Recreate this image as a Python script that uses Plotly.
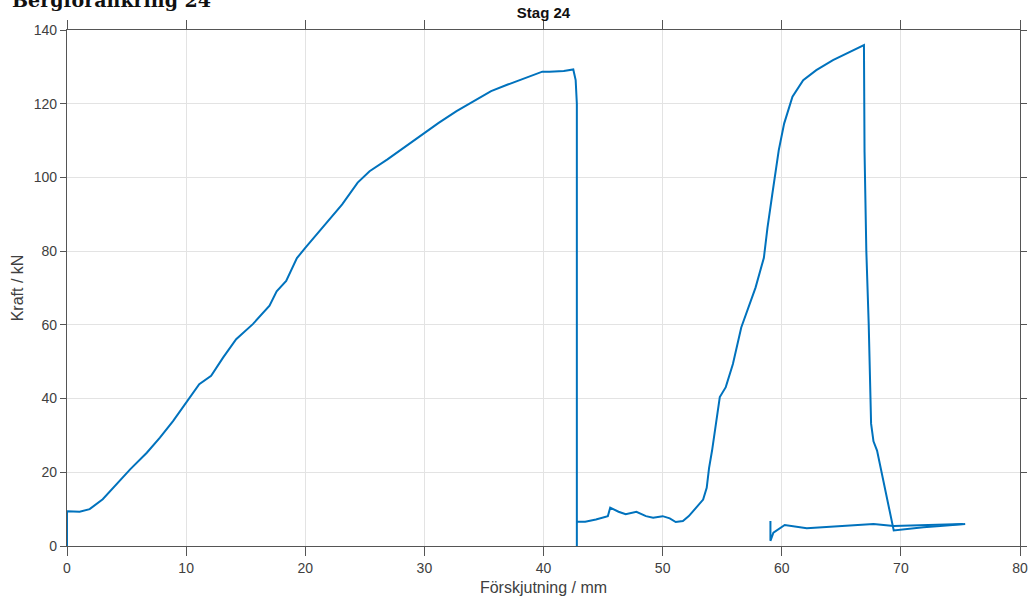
import plotly.graph_objects as go

# Segment 1: initial loading up to first failure (x in mm, y in kN)
seg1_x = [0.0, 0.0, 1.06, 1.9, 3.0, 4.1, 5.3, 6.7, 7.8, 8.9, 10.0, 11.1, 12.1, 13.1, 14.2,
          15.6, 17.0, 17.6, 18.4, 19.3, 20.0, 21.4, 23.1, 24.4, 25.4, 26.9, 28.3, 30.0,
          31.2, 32.7, 34.1, 35.6, 37.0, 38.5, 39.9, 40.5, 41.7, 42.5, 42.7, 42.8, 42.8]
seg1_y = [0.0, 9.4, 9.3, 10.0, 12.7, 16.7, 20.8, 25.3, 29.4, 33.9, 38.9, 43.9, 46.2, 51.1, 56.1,
          60.2, 65.2, 69.1, 71.9, 78.1, 80.9, 86.3, 92.7, 98.6, 101.7, 104.9, 108.1, 112.1,
          114.8, 118.0, 120.7, 123.4, 125.2, 127.1, 128.7, 128.7, 128.9, 129.3, 126.4, 120.0, 0.0]

# Segment 2: residual friction, reloading, second failure and unloading
seg2_x = [42.8, 43.5, 44.4, 45.4, 45.6, 46.3, 46.9, 47.8, 48.6, 49.2, 50.0, 50.6, 51.1, 51.7,
          52.2, 52.8, 53.4, 53.7, 53.9, 54.15, 54.8, 55.3, 55.9, 56.6, 57.3, 57.8, 58.5, 58.8,
          59.2, 59.75, 60.2, 60.9, 61.8, 62.9, 64.3, 65.7, 66.9, 66.95, 67.1, 67.3, 67.5, 67.7,
          68.0, 69.4, 70.2, 71.9, 73.3, 74.7, 75.4]
seg2_y = [6.6, 6.6, 7.2, 8.1, 10.4, 9.3, 8.6, 9.3, 8.1, 7.7, 8.1, 7.5, 6.5, 6.8,
          8.1, 10.4, 12.6, 15.8, 21.2, 25.9, 40.4, 43.1, 49.4, 59.3, 65.6, 70.1, 78.2, 86.3,
          95.3, 107.4, 114.6, 121.9, 126.4, 129.1, 131.8, 134.1, 135.9, 107.0, 80.0, 60.2, 33.2, 28.4,
          25.9, 4.2, 4.5, 5.1, 5.4, 5.7, 6.0]

# Segment 3: short low-load record starting near 59 mm
seg3_x = [59.05, 59.05, 59.3, 60.25, 62.1, 64.9, 67.7, 69.4, 71.9, 75.2]
seg3_y = [6.8, 1.4, 3.6, 5.7, 4.8, 5.4, 6.0, 5.4, 5.7, 6.0]

x_ticks = [0, 10, 20, 30, 40, 50, 60, 70, 80]
y_ticks = [0, 20, 40, 60, 80, 100, 120, 140]

all_x = seg1_x + [None] + seg2_x + [None] + seg3_x
all_y = seg1_y + [None] + seg2_y + [None] + seg3_y

BLUE = "#0072BD"
AX = "#555555"
TXT = "#404040"
FONT = "Liberation Sans, Arial, sans-serif"

fig = go.Figure()
fig.add_trace(go.Scatter(x=all_x, y=all_y, mode="lines",
                         line=dict(color=BLUE, width=2), connectgaps=False,
                         hoverinfo="skip", showlegend=False))

axis_common = dict(showline=True, linecolor=AX, linewidth=1.2, mirror="ticks",
                   ticks="outside", tickcolor=AX, tickwidth=1,
                   showgrid=True, gridcolor="#e3e3e3", gridwidth=1, zeroline=False,
                   automargin=False,
                   tickfont=dict(family=FONT, size=14, color=TXT))

fig.update_xaxes(range=[0, 80], tickvals=x_ticks, ticktext=[str(v) for v in x_ticks],
                 ticklen=9,
                 title=dict(text="Förskjutning / mm", font=dict(family=FONT, size=16, color=TXT),
                            standoff=6), **axis_common)
fig.update_yaxes(range=[0, 140], tickvals=y_ticks, ticktext=[str(v) for v in y_ticks],
                 ticklen=6,
                 title=dict(text="Kraft / kN", font=dict(family=FONT, size=16, color=TXT),
                            standoff=6), **axis_common)

fig.update_layout(
    width=1032, height=601,
    margin=dict(l=67, r=12, t=30, b=55, autoexpand=False),
    paper_bgcolor="white", plot_bgcolor="white",
    title=dict(text="<b>Stag 24</b>", x=0.5, xanchor="center", xref="paper",
               y=1 - 13 / 601, yanchor="middle", yref="container",
               font=dict(family=FONT, size=15, color="#111111")),
    annotations=[dict(text="<b>Bergförankring 24</b>", xref="paper", yref="paper",
                      x=-57 / 953, xanchor="left", y=1 + 17 / 516, yanchor="bottom",
                      showarrow=False, font=dict(family="DejaVu Serif, serif", size=19, color="#111111"))],
)

fig.write_html("out.html")
